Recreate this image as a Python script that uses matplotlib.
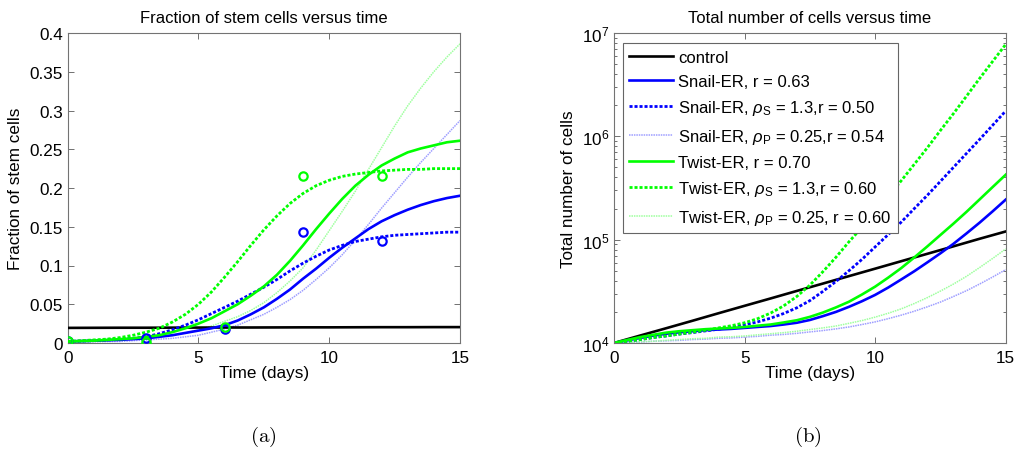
import matplotlib
matplotlib.use("Agg")
import numpy as np
import matplotlib.pyplot as plt
from matplotlib.ticker import FixedLocator, FuncFormatter, LogLocator, NullFormatter

plt.rcParams['font.family'] = ['Liberation Sans', 'DejaVu Sans']
plt.rcParams['mathtext.fontset'] = 'custom'
plt.rcParams['mathtext.rm'] = 'Liberation Sans'
plt.rcParams['mathtext.it'] = 'Liberation Sans:italic'
plt.rcParams['mathtext.sf'] = 'Liberation Sans'

# Time grids (days)
days = list(range(16))
half_days = np.arange(0, 15.5, 0.5)

# Fraction of stem cells (model curves sampled every half day)
frac_control = [0.0195, 0.0196, 0.0197, 0.0197, 0.0198, 0.0199, 0.0200, 0.0200,
                0.0201, 0.0202, 0.0202, 0.0203, 0.0204, 0.0204, 0.0205, 0.0205]
frac_snail = [0.002, 0.0025, 0.003, 0.0035, 0.004, 0.005, 0.006, 0.008, 0.010, 0.013,
              0.016, 0.019, 0.023, 0.029, 0.037, 0.046, 0.057, 0.069, 0.083, 0.096,
              0.110, 0.123, 0.135, 0.147, 0.157, 0.165, 0.172, 0.178, 0.183, 0.187, 0.190]
frac_snail_rhoS = [0.002, 0.0025, 0.003, 0.004, 0.005, 0.006, 0.008, 0.012, 0.017, 0.023,
                   0.030, 0.038, 0.046, 0.054, 0.063, 0.072, 0.082, 0.093, 0.103, 0.112,
                   0.120, 0.126, 0.131, 0.134, 0.137, 0.139, 0.140, 0.141, 0.142, 0.143, 0.143]
frac_snail_rhoP = [0.001, 0.0012, 0.0015, 0.0018, 0.002, 0.003, 0.004, 0.005, 0.006, 0.008,
                   0.010, 0.014, 0.018, 0.023, 0.030, 0.037, 0.046, 0.056, 0.068, 0.082,
                   0.097, 0.114, 0.133, 0.153, 0.174, 0.194, 0.214, 0.233, 0.251, 0.269, 0.287]
frac_twist = [0.002, 0.0025, 0.003, 0.004, 0.005, 0.006, 0.008, 0.010, 0.014, 0.019,
              0.025, 0.032, 0.041, 0.050, 0.061, 0.073, 0.088, 0.106, 0.126, 0.147,
              0.167, 0.186, 0.203, 0.217, 0.229, 0.238, 0.246, 0.251, 0.255, 0.259, 0.261]
frac_twist_rhoS = [0.002, 0.003, 0.004, 0.005, 0.007, 0.010, 0.014, 0.019, 0.027, 0.037,
                   0.050, 0.066, 0.085, 0.105, 0.126, 0.146, 0.164, 0.180, 0.193, 0.203,
                   0.210, 0.215, 0.218, 0.220, 0.222, 0.223, 0.224, 0.224, 0.225, 0.225, 0.225]
frac_twist_rhoP = [0.001, 0.0015, 0.002, 0.003, 0.004, 0.005, 0.006, 0.008, 0.010, 0.013,
                   0.017, 0.022, 0.028, 0.034, 0.042, 0.052, 0.065, 0.080, 0.097, 0.120,
                   0.145, 0.170, 0.196, 0.224, 0.252, 0.280, 0.306, 0.329, 0.350, 0.369, 0.386]

# Measured stem-cell fractions
obs_days = [0, 3, 6, 9, 12]
obs_snail = [0.002, 0.007, 0.018, 0.143, 0.132]
obs_twist = [0.002, 0.001, 0.021, 0.216, 0.215]

# Total number of cells (control daily, model curves every half day)
total_control = [1.00e4, 1.18e4, 1.39e4, 1.64e4, 1.94e4, 2.29e4, 2.70e4, 3.19e4,
                 3.76e4, 4.44e4, 5.24e4, 6.19e4, 7.30e4, 8.62e4, 1.02e5, 1.20e5]
total_snail = [1.00e4, 1.06e4, 1.12e4, 1.18e4, 1.23e4, 1.27e4, 1.30e4, 1.33e4, 1.35e4,
               1.37e4, 1.40e4, 1.43e4, 1.46e4, 1.51e4, 1.57e4, 1.67e4, 1.82e4, 2.00e4,
               2.24e4, 2.54e4, 2.92e4, 3.44e4, 4.12e4, 4.95e4, 6.03e4, 7.38e4, 9.12e4,
               1.15e5, 1.46e5, 1.88e5, 2.44e5]
total_snail_rhoS = [1.00e4, 1.04e4, 1.08e4, 1.13e4, 1.17e4, 1.22e4, 1.26e4, 1.31e4, 1.36e4,
                    1.42e4, 1.50e4, 1.60e4, 1.74e4, 1.93e4, 2.19e4, 2.57e4, 3.16e4, 3.94e4,
                    5.01e4, 6.46e4, 8.51e4, 1.12e5, 1.48e5, 2.00e5, 2.69e5, 3.67e5, 5.01e5,
                    6.84e5, 9.33e5, 1.28e6, 1.76e6]
total_snail_rhoP = [1.00e4, 1.01e4, 1.02e4, 1.04e4, 1.05e4, 1.06e4, 1.08e4, 1.09e4, 1.11e4,
                    1.12e4, 1.14e4, 1.16e4, 1.19e4, 1.21e4, 1.24e4, 1.28e4, 1.32e4, 1.37e4,
                    1.43e4, 1.51e4, 1.60e4, 1.72e4, 1.86e4, 2.03e4, 2.24e4, 2.49e4, 2.82e4,
                    3.21e4, 3.72e4, 4.35e4, 5.13e4]
total_twist = [1.00e4, 1.07e4, 1.14e4, 1.20e4, 1.26e4, 1.30e4, 1.33e4, 1.36e4, 1.38e4,
               1.40e4, 1.43e4, 1.47e4, 1.51e4, 1.58e4, 1.66e4, 1.79e4, 1.97e4, 2.21e4,
               2.51e4, 2.95e4, 3.51e4, 4.29e4, 5.31e4, 6.73e4, 8.61e4, 1.11e5, 1.43e5,
               1.86e5, 2.45e5, 3.23e5, 4.25e5]
total_twist_rhoS = [1.00e4, 1.04e4, 1.08e4, 1.13e4, 1.17e4, 1.22e4, 1.27e4, 1.33e4, 1.40e4,
                    1.47e4, 1.57e4, 1.72e4, 1.95e4, 2.29e4, 2.82e4, 3.63e4, 4.90e4, 6.76e4,
                    9.55e4, 1.32e5, 1.86e5, 2.63e5, 3.72e5, 5.37e5, 7.76e5, 1.14e6, 1.66e6,
                    2.45e6, 3.63e6, 5.31e6, 7.76e6]
total_twist_rhoP = [1.00e4, 1.01e4, 1.03e4, 1.04e4, 1.06e4, 1.08e4, 1.10e4, 1.11e4, 1.14e4,
                    1.15e4, 1.17e4, 1.20e4, 1.23e4, 1.26e4, 1.30e4, 1.35e4, 1.40e4, 1.46e4,
                    1.55e4, 1.65e4, 1.78e4, 1.94e4, 2.14e4, 2.41e4, 2.75e4, 3.18e4, 3.72e4,
                    4.42e4, 5.37e4, 6.58e4, 8.13e4]

legend_labels = [
    'control',
    'Snail-ER, r = 0.63',
    r'Snail-ER, $\rho_{\mathrm{S}}$ = 1.3,r = 0.50',
    r'Snail-ER, $\rho_{\mathrm{P}}$ = 0.25,r = 0.54',
    'Twist-ER, r = 0.70',
    r'Twist-ER, $\rho_{\mathrm{S}}$ = 1.3,r = 0.60',
    r'Twist-ER, $\rho_{\mathrm{P}}$ = 0.25, r = 0.60',
]

BLUE = (0, 0, 1)
GREEN = (0, 1, 0)
LIGHT_BLUE = (0.62, 0.62, 1.0)
LIGHT_GREEN = (0.62, 1.0, 0.62)
styles = [
    dict(color='black', lw=1.9, ls='-'),
    dict(color=BLUE, lw=1.9, ls='-'),
    dict(color=BLUE, lw=2.0, ls=(0, (1.1, 0.7))),
    dict(color=LIGHT_BLUE, lw=1.1, ls=(0, (1.0, 0.6))),
    dict(color=GREEN, lw=1.9, ls='-'),
    dict(color=GREEN, lw=2.0, ls=(0, (1.1, 0.7))),
    dict(color=LIGHT_GREEN, lw=1.1, ls=(0, (1.0, 0.6))),
]

fig = plt.figure(figsize=(10.21, 4.56), dpi=100)
W, H = 1021, 456
axL = fig.add_axes([67.7 / W, 1 - 344 / H, (460 - 67.7) / W, 310 / H])
axR = fig.add_axes([614 / W, 1 - 344 / H, (1005.7 - 614) / W, 310 / H])

FS = 12.3
LEG_FS = 12


def style_axes(ax):
    for s in ax.spines.values():
        s.set_color('0.45')
        s.set_linewidth(0.8)
    ax.tick_params(which='both', direction='in', top=True, right=True,
                   color='0.35', labelsize=FS, width=0.6)
    ax.tick_params(which='major', length=4.5)
    ax.tick_params(which='minor', length=2.5)
    ax.tick_params(axis='x', pad=5)


draw_order = [3, 6, 0, 1, 2, 4, 5]

# Left panel: stem cell fraction
frac_series = [frac_control, frac_snail, frac_snail_rhoS, frac_snail_rhoP,
               frac_twist, frac_twist_rhoS, frac_twist_rhoP]
for i in draw_order:
    x = days if i == 0 else half_days
    axL.plot(x, frac_series[i], **styles[i], zorder=2 + (i in (0, 1, 2, 4, 5)))
axL.plot(obs_days, obs_snail, 'o', mfc='none', mec=BLUE, mew=1.6, ms=6, zorder=5)
axL.plot(obs_days, obs_twist, 'o', mfc='none', mec=GREEN, mew=1.6, ms=6, zorder=6)
axL.set_xlim(0, 15)
axL.set_ylim(0, 0.4)
axL.xaxis.set_major_locator(FixedLocator([0, 5, 10, 15]))
axL.yaxis.set_major_locator(FixedLocator([0, 0.05, 0.1, 0.15, 0.2, 0.25, 0.3, 0.35, 0.4]))
axL.yaxis.set_major_formatter(FuncFormatter(lambda v, p: '%g' % round(v, 3)))
style_axes(axL)
axL.set_title('Fraction of stem cells versus time', fontsize=12, pad=8)
axL.set_xlabel('Time (days)', fontsize=FS, labelpad=0)
axL.set_ylabel('Fraction of stem cells', fontsize=FS, labelpad=5)

# Right panel: total cell number
total_series = [total_control, total_snail, total_snail_rhoS, total_snail_rhoP,
                total_twist, total_twist_rhoS, total_twist_rhoP]
handles = [None] * 7
for i in draw_order:
    x = days if i == 0 else half_days
    (h,) = axR.plot(x, total_series[i], **styles[i])
    handles[i] = h
axR.set_yscale('log')
axR.set_xlim(0, 15)
axR.set_ylim(1e4, 1e7)
axR.xaxis.set_major_locator(FixedLocator([0, 5, 10, 15]))
axR.yaxis.set_major_locator(LogLocator(base=10, numticks=10))
axR.yaxis.set_minor_locator(LogLocator(base=10, subs=range(2, 10), numticks=20))
axR.yaxis.set_minor_formatter(NullFormatter())
style_axes(axR)
axR.set_title('Total number of cells versus time', fontsize=12, pad=8)
axR.set_xlabel('Time (days)', fontsize=FS, labelpad=0)
axR.set_ylabel('Total number of cells', fontsize=FS, labelpad=4)
leg = axR.legend(handles, legend_labels, loc='upper left', bbox_to_anchor=(0.022, 0.968),
                 borderaxespad=0, fontsize=LEG_FS, handlelength=2.6, handletextpad=0.35,
                 labelspacing=0.56, borderpad=0.4, fancybox=False, framealpha=1)
leg.get_frame().set_edgecolor('0.4')
leg.get_frame().set_linewidth(0.8)

# Panel captions
fig.text(263 / W, 1 - 437 / H, r'$\mathrm{(a)}$', ha='center', va='center',
         fontsize=15, math_fontfamily='cm')
fig.text(808 / W, 1 - 437 / H, r'$\mathrm{(b)}$', ha='center', va='center',
         fontsize=15, math_fontfamily='cm')

fig.savefig('out.png', dpi=100)
